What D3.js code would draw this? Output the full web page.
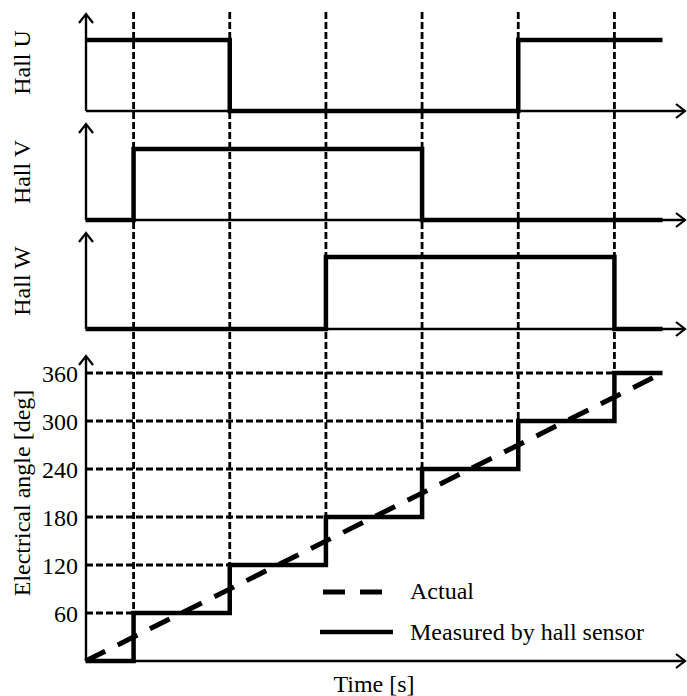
<!DOCTYPE html>
<html>
<head>
<meta charset="utf-8">
<script src="https://cdn.jsdelivr.net/npm/d3@7"></script>
<style>
  body { margin: 0; background: #fff; }
  svg text { font-family: "Liberation Serif", "Times New Roman", serif; fill: #000; }
</style>
</head>
<body>
<svg id="chart" width="687" height="696"></svg>
<script>
// interval start times (last entry is the end of the record)
var times = [0, 0.5, 1.5, 2.5, 3.5, 4.5, 5.5, 6];
var edges = [0.5, 1.5, 2.5, 3.5, 4.5, 5.5];
// hall states per interval
var hallU = [1, 1, 0, 0, 0, 1, 1];
var hallV = [0, 1, 1, 1, 0, 0, 0];
var hallW = [0, 0, 0, 1, 1, 1, 0];
var hallNames = ["Hall U", "Hall V", "Hall W"];
// measured electrical angle per interval [deg]
var measured = [0, 60, 120, 180, 240, 300, 360];
// actual angle (straight ramp)
var actualT = [0, 6];
var actualDeg = [0, 360];
var angleTicks = [60, 120, 180, 240, 300, 360];
var legendLabels = ["Actual", "Measured by hall sensor"];

var svg = d3.select("#chart");
var x = d3.scaleLinear().domain([0, 6]).range([85.5, 662.5]);
var x0 = 86, xEnd = 685;
var fs = 24;

// hall panels: axis y, high level y, arrow top
var panels = [
    { data: hallU, base: 111, high: 40, top: 14 },
    { data: hallV, base: 220, high: 149, top: 124 },
    { data: hallW, base: 329, high: 257, top: 233 }
];
var yA = d3.scaleLinear().domain([0, 360]).range([661, 373]);
var angleTop = 356;

function stepPoints(vals) {
    var pts = vals.map(function(v, i) { return [times[i], v]; });
    pts.push([times[times.length - 1], vals[vals.length - 1]]);
    return pts;
}

function arrowUp(g, cx, ty) {
    g.append("path")
        .attr("d", "M" + (cx - 7) + "," + (ty + 9) + "L" + cx + "," + ty + "L" + (cx + 7) + "," + (ty + 9))
        .attr("fill", "none").attr("stroke", "#000").attr("stroke-width", 2.2);
}
function arrowRight(g, tx, cy) {
    g.append("path")
        .attr("d", "M" + (tx - 9) + "," + (cy - 7) + "L" + tx + "," + cy + "L" + (tx - 9) + "," + (cy + 7))
        .attr("fill", "none").attr("stroke", "#000").attr("stroke-width", 2.2);
}

var grid = svg.append("g").attr("stroke", "#000").attr("stroke-width", 2.8)
    .attr("stroke-dasharray", "7,3").attr("fill", "none");

// vertical dashed lines down to the level reached at each edge
edges.forEach(function(t, i) {
    grid.append("line")
        .attr("x1", x(t)).attr("x2", x(t))
        .attr("y1", 12).attr("y2", yA(measured[i + 1]));
});
// horizontal dashed lines for each angle tick
angleTicks.forEach(function(v, i) {
    grid.append("line")
        .attr("x1", x0).attr("x2", x(edges[i]))
        .attr("y1", yA(v)).attr("y2", yA(v));
});

var axes = svg.append("g").attr("stroke", "#000").attr("stroke-width", 2.4);

panels.forEach(function(p, k) {
    var y = d3.scaleLinear().domain([0, 1]).range([p.base, p.high]);
    axes.append("line").attr("x1", x0).attr("x2", x0).attr("y1", p.base).attr("y2", p.top + 1);
    axes.append("line").attr("x1", x0).attr("x2", xEnd).attr("y1", p.base).attr("y2", p.base);
    arrowUp(axes, x0, p.top);
    arrowRight(axes, xEnd, p.base);

    var line = d3.line().x(function(d) { return x(d[0]); })
        .y(function(d) { return y(d[1]); })
        .curve(d3.curveStepAfter);
    svg.append("path").datum(stepPoints(p.data))
        .attr("d", line).attr("fill", "none")
        .attr("stroke", "#000").attr("stroke-width", 4.5);

    svg.append("text")
        .attr("transform", "translate(30," + ((p.base + p.top) / 2) + ") rotate(-90)")
        .attr("text-anchor", "middle").attr("font-size", fs)
        .text(hallNames[k]);
});

// angle panel
axes.append("line").attr("x1", x0).attr("x2", x0).attr("y1", yA(0)).attr("y2", angleTop + 1);
axes.append("line").attr("x1", x0).attr("x2", xEnd).attr("y1", yA(0)).attr("y2", yA(0));
arrowUp(axes, x0, angleTop);
arrowRight(axes, xEnd, yA(0));

var yAxis = d3.axisLeft(yA).tickValues(angleTicks).tickSize(0).tickPadding(8);
var ax = svg.append("g").attr("transform", "translate(" + x0 + ",0)").call(yAxis);
ax.select(".domain").remove();
ax.selectAll("text").attr("font-size", fs).attr("font-family", "Liberation Serif").attr("dy", "0.34em");

var mLine = d3.line().x(function(d) { return x(d[0]); })
    .y(function(d) { return yA(d[1]); })
    .curve(d3.curveStepAfter);
svg.append("path").datum(stepPoints(measured))
    .attr("d", mLine).attr("fill", "none")
    .attr("stroke", "#000").attr("stroke-width", 4.5);

var aLine = d3.line().x(function(d) { return x(d[0]); }).y(function(d) { return yA(d[1]); });
svg.append("path").datum(actualT.map(function(t, i) { return [t, actualDeg[i]]; }))
    .attr("d", aLine).attr("fill", "none")
    .attr("stroke", "#000").attr("stroke-width", 5)
    .attr("stroke-dasharray", "22,14");

svg.append("text")
    .attr("transform", "translate(30,493) rotate(-90)")
    .attr("text-anchor", "middle").attr("font-size", fs)
    .text("Electrical angle [deg]");

// legend
var leg = svg.append("g");
leg.append("line").attr("x1", 323).attr("x2", 382).attr("y1", 592).attr("y2", 592)
    .attr("stroke", "#000").attr("stroke-width", 5).attr("stroke-dasharray", "22,15");
leg.append("line").attr("x1", 320).attr("x2", 393).attr("y1", 632).attr("y2", 632)
    .attr("stroke", "#000").attr("stroke-width", 4.5);
leg.selectAll("text").data(legendLabels).enter().append("text")
    .attr("x", 410).attr("y", function(d, i) { return i ? 640 : 599; })
    .attr("font-size", fs).text(function(d) { return d; });

svg.append("text").attr("x", 374).attr("y", 692)
    .attr("text-anchor", "middle").attr("font-size", fs).text("Time [s]");
</script>
</body>
</html>
